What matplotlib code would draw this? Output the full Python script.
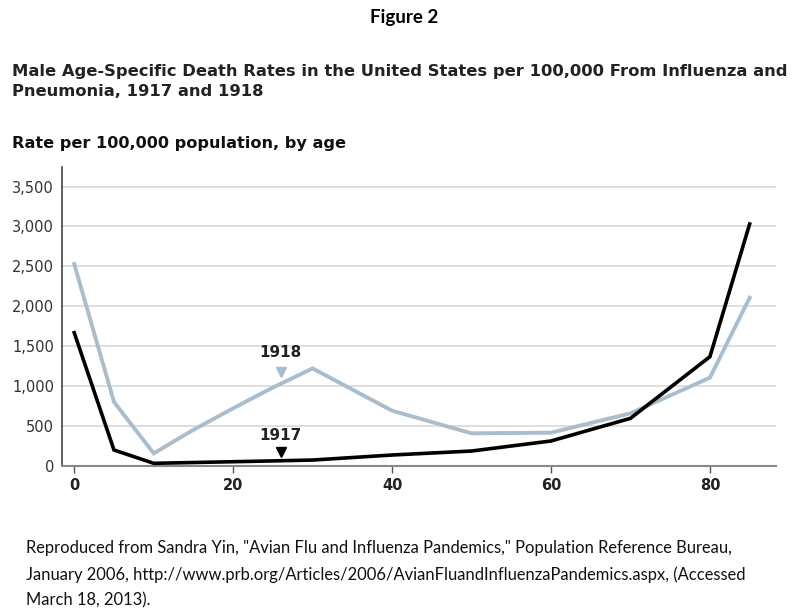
"""Figure 2 — male age-specific death rates, influenza and pneumonia, 1917 vs 1918."""

import matplotlib

matplotlib.use("Agg")
import matplotlib.pyplot as plt

# ages (x) and rates per 100,000 (y)
ages = [0, 5, 10, 15, 20, 25, 30, 40, 50, 60, 70, 80, 85]
rate_1918 = [2530, 800, 155, 450, 720, 980, 1220, 690, 406, 414, 657, 1104, 2107]
rate_1917 = [1668, 197, 30, 40, 50, 60, 71, 134, 184, 310, 594, 1367, 3031]

x_ticks = [0, 20, 40, 60, 80]
y_ticks = [0, 500, 1000, 1500, 2000, 2500, 3000, 3500]

BLUE = "#a9bdcd"
CHART_FONT = "DejaVu Sans"
TEXT_FONT = "Lato"

fig = plt.figure(figsize=(8.04, 6.09), dpi=100)
ax = fig.add_axes([0.0775, 0.2353, 0.8875, 0.491])

ax.plot(ages, rate_1918, color=BLUE, linewidth=2.8, solid_joinstyle="miter", zorder=3)
ax.plot(ages, rate_1917, color="black", linewidth=2.6, solid_joinstyle="miter", zorder=4)

# inline labels with small triangles
ax.text(26, 1330, "1918", fontsize=11, fontweight="bold", family=CHART_FONT,
        color="#222222", ha="center", va="bottom")
ax.plot([26], [1180], marker="v", color=BLUE, markersize=7.5, zorder=5)
ax.text(26, 290, "1917", fontsize=11, fontweight="bold", family=CHART_FONT,
        color="#222222", ha="center", va="bottom")
ax.plot([26], [170], marker="v", color="black", markersize=7.5, zorder=5)

ax.set_xlim(-1.5, 88.3)
ax.set_ylim(0, 3750)
ax.set_xticks(x_ticks)
ax.set_xticklabels([str(t) for t in x_ticks], fontsize=10.5, fontweight="bold",
                   family=CHART_FONT, color="#222222")
ax.set_yticks(y_ticks)
ax.set_yticklabels([f"{t:,}" for t in y_ticks], fontsize=10.5, family=CHART_FONT,
                   color="#333333")
ax.tick_params(axis="y", length=0, pad=6)
ax.tick_params(axis="x", length=5, width=1, color="#555555", pad=4)

ax.grid(True, axis="y", color="#d9d9d9", linewidth=1.2)
ax.set_axisbelow(True)
for side in ("top", "right"):
    ax.spines[side].set_visible(False)
ax.spines["left"].set_color("#444444")
ax.spines["left"].set_linewidth(1.2)
ax.spines["bottom"].set_color("#888888")
ax.spines["bottom"].set_linewidth(1.5)

# titles
fig.text(0.5025, 0.972, "Figure 2", fontsize=13.5, fontweight="bold", family=TEXT_FONT,
         ha="center", va="center")
fig.text(0.015, 0.883, "Male Age-Specific Death Rates in the United States per 100,000 From Influenza and",
         fontsize=11.8, fontweight="bold", family=CHART_FONT, ha="left", va="center", color="#222222")
fig.text(0.015, 0.849, "Pneumonia, 1917 and 1918", fontsize=11.8, fontweight="bold",
         family=CHART_FONT, ha="left", va="center", color="#222222")
fig.text(0.015, 0.765, "Rate per 100,000 population, by age", fontsize=11.6, fontweight="bold",
         family=CHART_FONT, ha="left", va="center", color="#111111")

caption = [
    'Reproduced from Sandra Yin, "Avian Flu and Influenza Pandemics," Population Reference Bureau,',
    "January 2006, http://www.prb.org/Articles/2006/AvianFluandInfluenzaPandemics.aspx, (Accessed",
    "March 18, 2013).",
]
for i, line in enumerate(caption):
    fig.text(0.032, 0.1 - i * 0.043, line, fontsize=11.9, family=TEXT_FONT,
             ha="left", va="center", color="#111111")

fig.savefig("out.png", dpi=100)
plt.close(fig)
